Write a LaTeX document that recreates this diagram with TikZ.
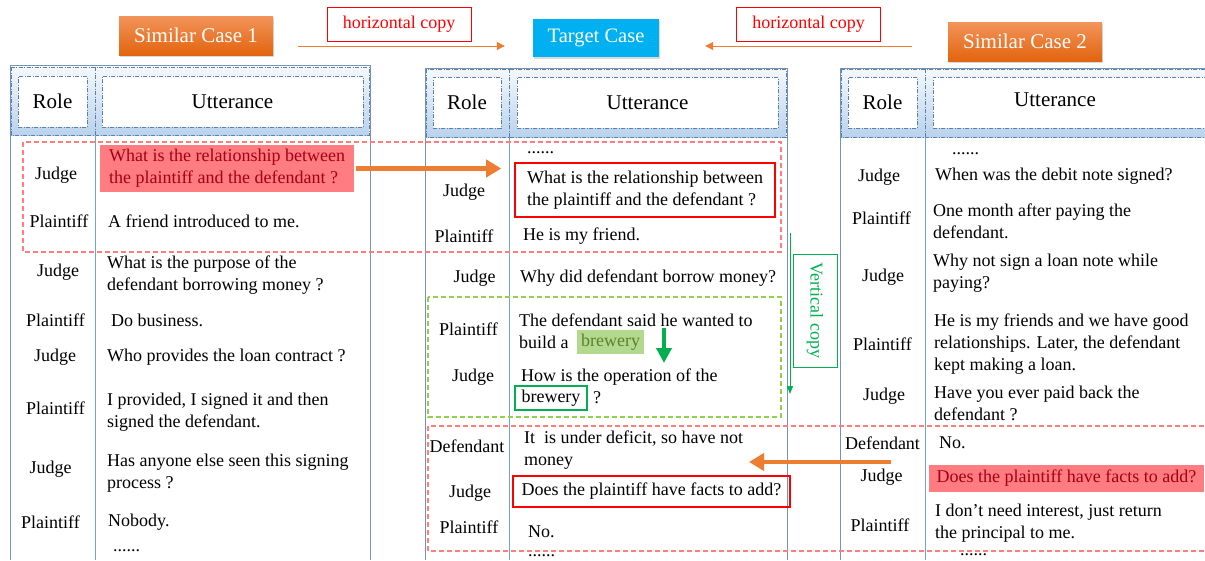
\documentclass[tikz,border=0pt]{standalone}
\usepackage{fontspec}
\setmainfont{Liberation Serif}
\usetikzlibrary{positioning}
\usetikzlibrary{arrows.meta}
\usetikzlibrary{shadows}
\usepackage{xcolor}
\definecolor{caseorange}{HTML}{ED7D31}
\definecolor{casetop}{HTML}{F2945A}
\definecolor{casebot}{HTML}{E2640F}
\definecolor{targetblue}{HTML}{00B0F0}
\definecolor{headblue}{HTML}{5A7FA8}
\definecolor{headtop}{HTML}{F4F8FC}
\definecolor{headbot}{HTML}{B9D2EC}
\definecolor{tableedge}{HTML}{7592B8}
\definecolor{coldiv}{HTML}{6FA3DA}
\definecolor{zonered}{HTML}{FF7C80}
\definecolor{zonegreen}{HTML}{92D050}
\definecolor{vgreen}{HTML}{00B050}
\definecolor{pinkfill}{HTML}{FF7C80}
\definecolor{darkred}{HTML}{A50012}
\definecolor{brewfill}{HTML}{B2D98D}
\definecolor{brewtext}{HTML}{5E7F2E}
\newcommand{\bodyfont}{\fontsize{18}{22}\selectfont}
\newcommand{\headfont}{\fontsize{21}{25}\selectfont}

\begin{document}
\begin{tikzpicture}[x=1pt,y=-1pt,
    role/.style={inner sep=0pt, font=\bodyfont},
    utt/.style={anchor=west, align=left, inner sep=0pt, font=\bodyfont},
    headcell/.style={draw=headblue, fill=white, line width=0.8pt, dash pattern=on 4pt off 1.5pt on 1pt off 1.5pt, inner sep=0pt, minimum height=51, font=\headfont},
    headline/.style={headblue, line width=0.8pt, dash pattern=on 4pt off 1.5pt on 1pt off 1.5pt},
    tableline/.style={tableedge, line width=1pt},
    divline/.style={coldiv, line width=0.8pt},
    casebox/.style={top color=casetop, bottom color=casebot, text=white, font=\headfont, minimum width=154, minimum height=39, drop shadow={opacity=0.3, shadow xshift=1pt, shadow yshift=-2pt}},
    copylabel/.style={draw=red, fill=white, text=red, line width=0.8pt, font=\bodyfont, minimum width=144, minimum height=34, inner sep=0pt},
    pinkbox/.style={fill=pinkfill, text=darkred, align=left, font=\bodyfont},
    redbox/.style={draw=red, line width=1.6pt, align=left, font=\bodyfont},
    brewhl/.style={fill=brewfill, text=brewtext, font=\bodyfont, minimum width=67, minimum height=24, inner sep=0pt},
    brewbox/.style={draw=vgreen, line width=1.6pt, font=\bodyfont, minimum width=72, minimum height=24, inner sep=0pt},
    redzone/.style={draw=zonered, line width=1.2pt, dash pattern=on 5pt off 3pt},
    greenzone/.style={draw=zonegreen, line width=1.2pt, dash pattern=on 5pt off 3pt},
    bigarrow/.style={caseorange, line width=4.5pt, -{Triangle[width=17pt,length=15pt]}},
    thinarrow/.style={caseorange, line width=1pt, -{Triangle[width=8pt,length=8pt]}}
  ]
\useasboundingbox (0,0) rectangle (1205,560);
\clip (0,0) rectangle (1205,560);

% titles
\node[casebox] (sc1) at (196,35.5) {Similar Case 1};
\node[copylabel] (hc1) at (399,24) {horizontal copy};
\node[fill=targetblue, text=white, font=\fontsize{20.5}{24}\selectfont, minimum width=126, minimum height=38, drop shadow={opacity=0.3, shadow xshift=1pt, shadow yshift=-2pt}] (tc) at (596,38) {Target Case};
\node[copylabel] (hc2) at (808.5,24) {horizontal copy};
\node[casebox] (sc2) at (1025,41.5) {Similar Case 2};
\coordinate (h1s) at (298,46);
\coordinate (h2s) at (912,46);
\draw[thinarrow] (h1s) -- ([xshift=-28pt]h1s -| tc.west);
\draw[thinarrow] (h2s) -- ([xshift=46pt]h2s -| tc.east);

% table of similar case 1
\shade[top color=headtop, bottom color=headbot] (11,67) rectangle (369,135);
\draw[headline] (11,67) rectangle (369,135);
\draw[headline] (95,67) -- (95,135);
\draw[tableline] (10,65) -- (370,65);
\draw[tableline] (10,65) -- (10,560);
\draw[tableline] (370,65) -- (370,560);
\draw[divline] (95,135) -- (95,560);
\node[headcell, minimum width=69] (role1) at (52.5,101.5) {Role};
\node[headcell, minimum width=261] (utt1) at (232.5,101.5) {Utterance};

% table of target case
\shade[top color=headtop, bottom color=headbot] (426,69) rectangle (786,137);
\draw[headline] (426,69) rectangle (786,137);
\draw[headline] (509,69) -- (509,137);
\draw[tableline] (425,68) -- (787,68);
\draw[tableline] (425,68) -- (425,560);
\draw[tableline] (787,68) -- (787,560);
\draw[divline] (509,137) -- (509,560);
\node[headcell, minimum width=68] (role2) at (467,102.5) {Role};
\node[headcell, minimum width=261] (utt2) at (647.5,102.5) {Utterance};

% table of similar case 2
\shade[top color=headtop, bottom color=headbot] (841,69) rectangle (1215,137);
\draw[headline] (841,69) rectangle (1215,137);
\draw[headline] (925,69) -- (925,137);
\draw[tableline] (840,68) -- (1215,68);
\draw[tableline] (840,68) -- (840,560);
\draw[divline] (925,137) -- (925,560);
\node[headcell, minimum width=69] (role3) at (882.5,102.5) {Role};
\node[headcell, minimum width=284, anchor=west] (utt3) at (933,102.5) {};
\node[font=\headfont] (utt3t) at (1055,100) {Utterance};

% copy regions
\draw[redzone] (23,142) rectangle (781,252);
\draw[greenzone] (428,297) rectangle (781,417);
\draw[redzone] (428,426) rectangle (1215,551);

% dialogue of similar case 1
\node[role] (j11) at (56,175) {Judge};
\node[pinkbox, inner xsep=9pt, inner ysep=4.5pt] (hl1) at (227,168.5) {What is the relationship between\\the plaintiff and the defendant ?};
\node[role] (p11) at (59,221) {Plaintiff};
\node[utt] (u12) at (108,221) {A friend introduced to me.};
\node[role] (j12) at (58,272) {Judge};
\node[utt] (u13) at (107,275) {What is the purpose of the\\defendant borrowing money ?};
\node[role] (p12) at (55.5,320) {Plaintiff};
\node[utt] (u14) at (111,320) {Do business.};
\node[role] (j13) at (55,357) {Judge};
\node[utt] (u15) at (107,357) {Who provides the loan contract ?};
\node[role] (p13) at (55.5,408) {Plaintiff};
\node[utt] (u16) at (107,412.5) {I provided, I signed it and then\\signed the defendant.};
\node[role] (j14) at (50.5,469) {Judge};
\node[utt] (u17) at (107,473) {Has anyone else seen this signing\\process ?};
\node[role] (p14) at (50.5,522) {Plaintiff};
\node[utt] (u18) at (108,522) {Nobody.};
\node[utt] (dots1) at (113,551) {......};

% dialogue of target case
\node[utt] (dots2) at (527,153) {......};
\node[role] (j21) at (464,192) {Judge};
\node[redbox, inner xsep=12pt, inner ysep=8pt] (tq1) at (645,190) {What is the relationship between\\the plaintiff and the defendant ?};
\node[role] (p21) at (464,236) {Plaintiff};
\node[utt] (u22) at (523,236) {He is my friend.};
\node[role] (j22) at (474.5,278) {Judge};
\node[utt] (u23) at (520,278) {Why did defendant borrow money?};
\node[role] (p22) at (468.5,329) {Plaintiff};
\node[utt] (u24) at (519,320) {The defendant said he wanted to};
\node[utt] (u24b) at (519,342) {build a};
\node[brewhl, right=8pt of u24b] (brew1) {brewery};
\node[role] (j23) at (473,377) {Judge};
\node[utt] (u25) at (521,377) {How is the operation of the};
\node[brewbox] (brew2) at (551,398) {brewery};
\node[utt, right=5pt of brew2] (u25b) {?};
\node[role] (d21) at (467,446) {Defendant};
\node[utt] (u26) at (524,450) {It\ \ is under deficit, so have not\\money};
\node[role] (j24) at (470,493) {Judge};
\node[redbox, inner xsep=9pt, inner ysep=7pt] (tq3) at (651.5,491.5) {Does the plaintiff have facts to add?};
\node[role] (p24) at (469,527) {Plaintiff};
\node[utt] (u28) at (528,532) {No.};
\node[utt] (dots4) at (528,556) {......};

% dialogue of similar case 2
\node[utt] (dots3) at (952,154) {......};
\node[role] (j31) at (879,177) {Judge};
\node[utt] (u31) at (935,176) {When was the debit note signed?};
\node[role] (p31) at (881.5,218) {Plaintiff};
\node[utt] (u32) at (933,221) {One month after paying the\\defendant.};
\node[role] (j32) at (883,277) {Judge};
\node[utt] (u33) at (933,273) {Why not sign a loan note while\\paying?};
\node[role] (p32) at (882.5,344) {Plaintiff};
\node[utt] (u34) at (934,344) {He is my friends and we have good\\relationships. Later, the defendant\\kept making a loan.};
\node[role] (j33) at (884,396) {Judge};
\node[utt] (u35) at (934,403) {Have you ever paid back the\\defendant ?};
\node[role] (d31) at (882.5,443) {Defendant};
\node[utt] (u36) at (939,443) {No.};
\node[role] (j34) at (881.5,477) {Judge};
\node[pinkbox, inner xsep=8pt, inner ysep=5pt] (hl3) at (1066.5,478.5) {Does the plaintiff have facts to add?};
\node[role] (p33) at (880,525) {Plaintiff};
\node[utt] (u38) at (935,523.5) {I don’t need interest, just return\\the principal to me.};
\node[utt] (dots5) at (960,555) {......};

% copy arrows
\draw[bigarrow] ([xshift=2pt]hl1.east) -- ([xshift=-13pt]hl1.east -| tq1.west);
\coordinate (a2s) at (891,462);
\coordinate (a2e) at (749,462);
\draw[bigarrow] (a2s) -- (a2e);
\coordinate (g1s) at (664,328);
\coordinate (g1e) at (664,363);
\draw[vgreen, line width=4pt, -{Triangle[width=15pt,length=15pt]}] (g1s) -- (g1e);
\node[draw=vgreen, text=vgreen, rotate=-90, font=\bodyfont, minimum width=113, minimum height=44, inner sep=0pt] (vc) at (815,310.5) {Vertical copy};
\coordinate (v1s) at (790,233);
\coordinate (v1e) at (790,394);
\draw[vgreen, line width=1pt, -{Triangle[width=6pt,length=8pt]}] (v1s) -- (v1e);
\end{tikzpicture}
\end{document}
